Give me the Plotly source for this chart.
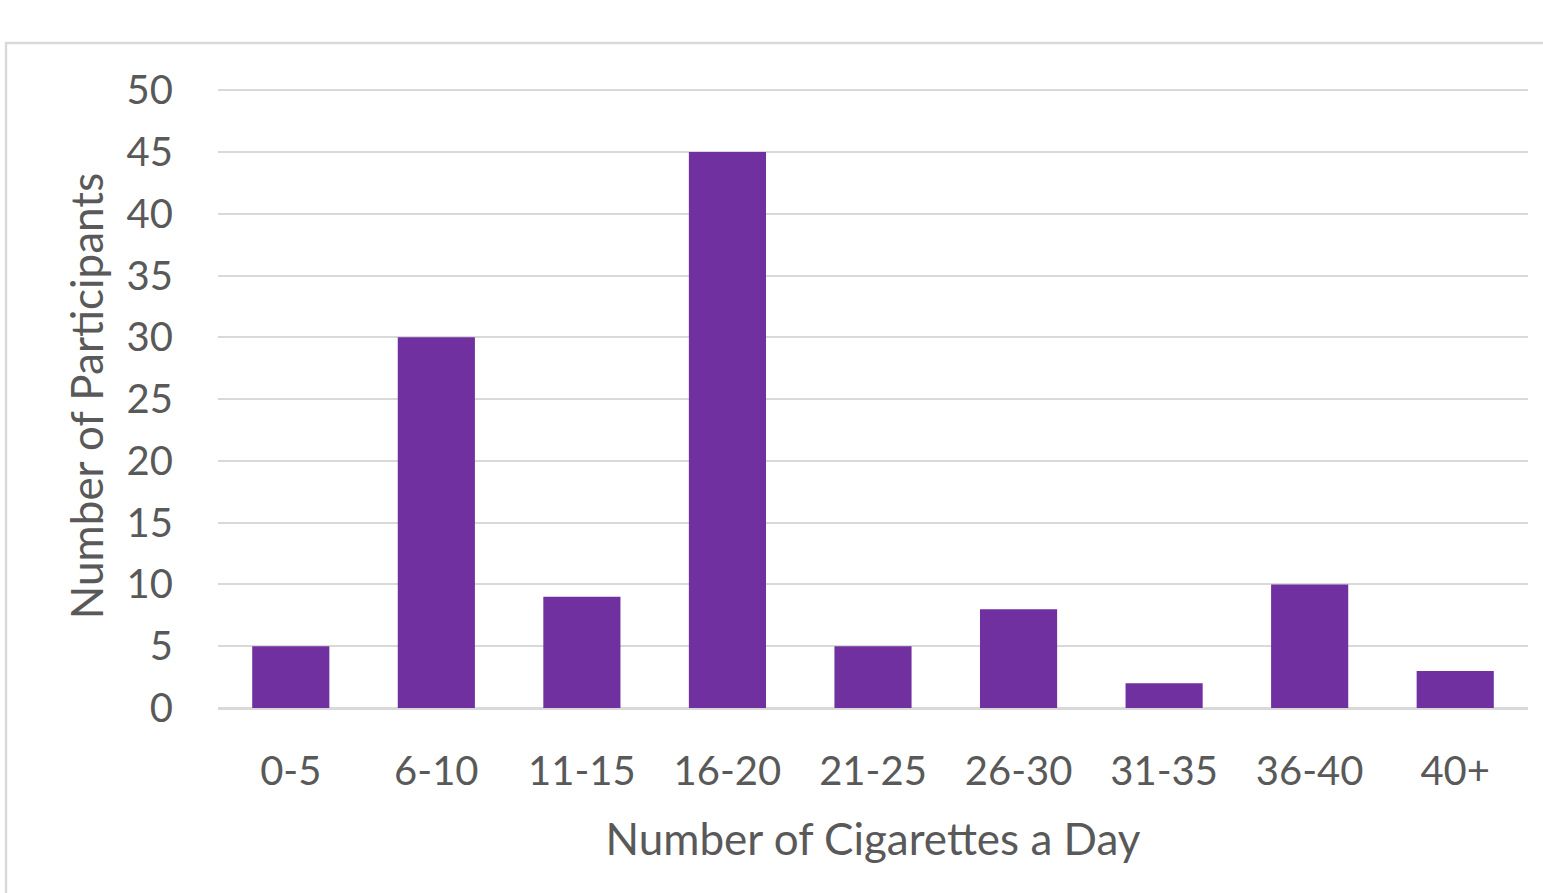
import plotly.graph_objects as go

categories = ["0-5", "6-10", "11-15", "16-20", "21-25", "26-30", "31-35", "36-40", "40+"]
participants = [5, 30, 9, 45, 5, 8, 2, 10, 3]
y_ticks = [0, 5, 10, 15, 20, 25, 30, 35, 40, 45, 50]

W, H = 1543, 893
L, R, T, B = 218, 15, 84, 185
pw, ph = W - L - R, H - T - B

FONT = "Lato"
GRAY = "#595959"
GRID = "#D9D9D9"

fig = go.Figure(go.Bar(x=categories, y=participants, marker_color="#7030A0",
                       marker_line_width=0))

fig.update_layout(
    width=W, height=H,
    margin=dict(l=L, r=R, t=T, b=B, pad=0),
    paper_bgcolor="white", plot_bgcolor="white",
    bargap=0.47,
    showlegend=False,
    font=dict(family=FONT, color=GRAY, size=40),
    xaxis=dict(
        title=dict(text="Number of Cigarettes a Day", font=dict(size=44, color=GRAY), standoff=31),
        tickfont=dict(size=40, color=GRAY),
        showgrid=False, showline=False, ticks="", ticklabelstandoff=36,
    ),
    yaxis=dict(
        title=dict(text="Number of Participants", font=dict(size=44, color=GRAY), standoff=9),
        range=[0, 50.5], tickvals=y_ticks, tickfont=dict(size=40, color=GRAY),
        showgrid=True, gridcolor=GRID, gridwidth=2,
        zeroline=True, zerolinecolor=GRID, zerolinewidth=2.5,
        showline=False, ticks="", ticklabelstandoff=44,
    ),
    shapes=[dict(
        type="rect", xref="paper", yref="paper",
        x0=(6 - L) / pw, x1=(W + 50 - L) / pw,
        y0=-(H + 50 - T - ph) / ph, y1=1 + (T - 43) / ph,
        line=dict(color=GRID, width=2.5), fillcolor="rgba(0,0,0,0)", layer="below",
    )],
)

fig.write_html("out.html")
